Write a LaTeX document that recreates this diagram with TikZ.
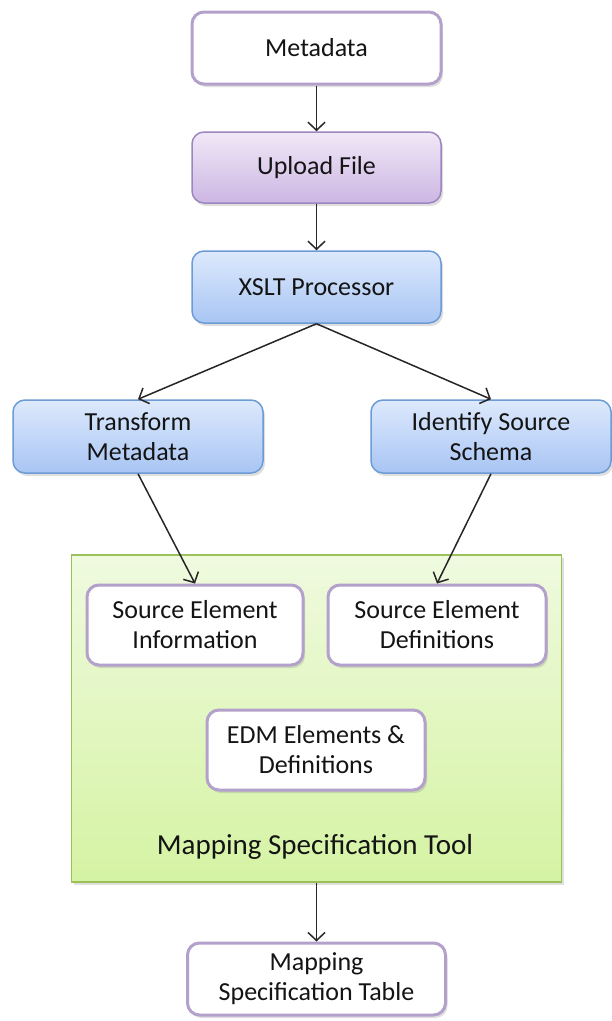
\documentclass[tikz,border=0pt]{standalone}
\usepackage{fontspec}
\setmainfont{Carlito}
\usetikzlibrary{arrows.meta,shadows}
\definecolor{purpb}{HTML}{B3A1CC}
\definecolor{purpd}{HTML}{9C86BF}
\definecolor{uptop}{HTML}{F0E8F7}
\definecolor{upbot}{HTML}{CDB6E3}
\definecolor{bltop}{HTML}{DDE9FC}
\definecolor{blbot}{HTML}{A8C5F4}
\definecolor{blbd}{HTML}{6C9BD5}
\definecolor{grtop}{HTML}{EFFADF}
\definecolor{grbot}{HTML}{D5F3A3}
\definecolor{grbd}{HTML}{9DC15A}
\definecolor{txt}{HTML}{141414}
\tikzset{
  basebox/.style={rectangle, rounded corners=12pt, inner sep=0pt, align=center,
    text=txt, font=\fontsize{26}{30}\selectfont,
    drop shadow={opacity=0.25, shadow xshift=2pt, shadow yshift=-3pt}},
  whitebox/.style={basebox, draw=purpb, line width=3pt, fill=white},
  upbox/.style={basebox, draw=purpd, line width=1.5pt, top color=uptop, bottom color=upbot},
  bluebox/.style={basebox, draw=blbd, line width=1.5pt, top color=bltop, bottom color=blbot},
  arr/.style={-{Straight Barb[length=8pt,width=17pt,line width=1.5pt]}, line width=1.5pt, black!85}
}
\begin{document}
\begin{tikzpicture}[x=1pt,y=-1pt]
\useasboundingbox (0,0) rectangle (611,1021);
% green container
\node[rectangle, draw=grbd, line width=1.5pt, top color=grtop, bottom color=grbot,
  minimum width=490pt, minimum height=327pt, inner sep=0pt,
  drop shadow={opacity=0.25, shadow xshift=2pt, shadow yshift=-3pt}] (tool) at (316.5,718.5) {};
\node[text=txt, font=\fontsize{29}{34}\selectfont] (toollbl) at (315,847) {Mapping Specification Tool};

\node[whitebox, minimum width=249pt, minimum height=72pt] (meta) at (316.5,48) {Metadata};
\node[upbox, minimum width=249pt, minimum height=71pt] (upload) at (316.5,167.5) {Upload File};
\node[bluebox, minimum width=249pt, minimum height=72pt] (xslt) at (316.5,287) {XSLT Processor};
\node[bluebox, minimum width=250pt, minimum height=73pt] (tm) at (138,436.5) {Transform\\Metadata};
\node[bluebox, minimum width=240pt, minimum height=73pt] (iss) at (491,436.5) {Identify Source\\Schema};
\node[whitebox, minimum width=216pt, minimum height=80pt] (sei) at (195,625) {Source Element\\Information};
\node[whitebox, minimum width=218pt, minimum height=80pt] (sed) at (437,625) {Source Element\\Definitions};
\node[whitebox, minimum width=218pt, minimum height=80pt] (edm) at (316,750) {EDM Elements \&\\Definitions};
\node[whitebox, minimum width=258pt, minimum height=72pt] (table) at (316.5,979) {Mapping\\Specification Table};

\draw[arr] (meta) -- (upload);
\draw[arr] (upload) -- (xslt);
\draw[arr] (xslt.south) -- (tm.north);
\draw[arr] (xslt.south) -- (iss.north);
\draw[arr] (tm.south) -- (sei.north);
\draw[arr] (iss.south) -- (sed.north);
\draw[arr] (tool.south) -- (table.north);
\end{tikzpicture}
\end{document}
